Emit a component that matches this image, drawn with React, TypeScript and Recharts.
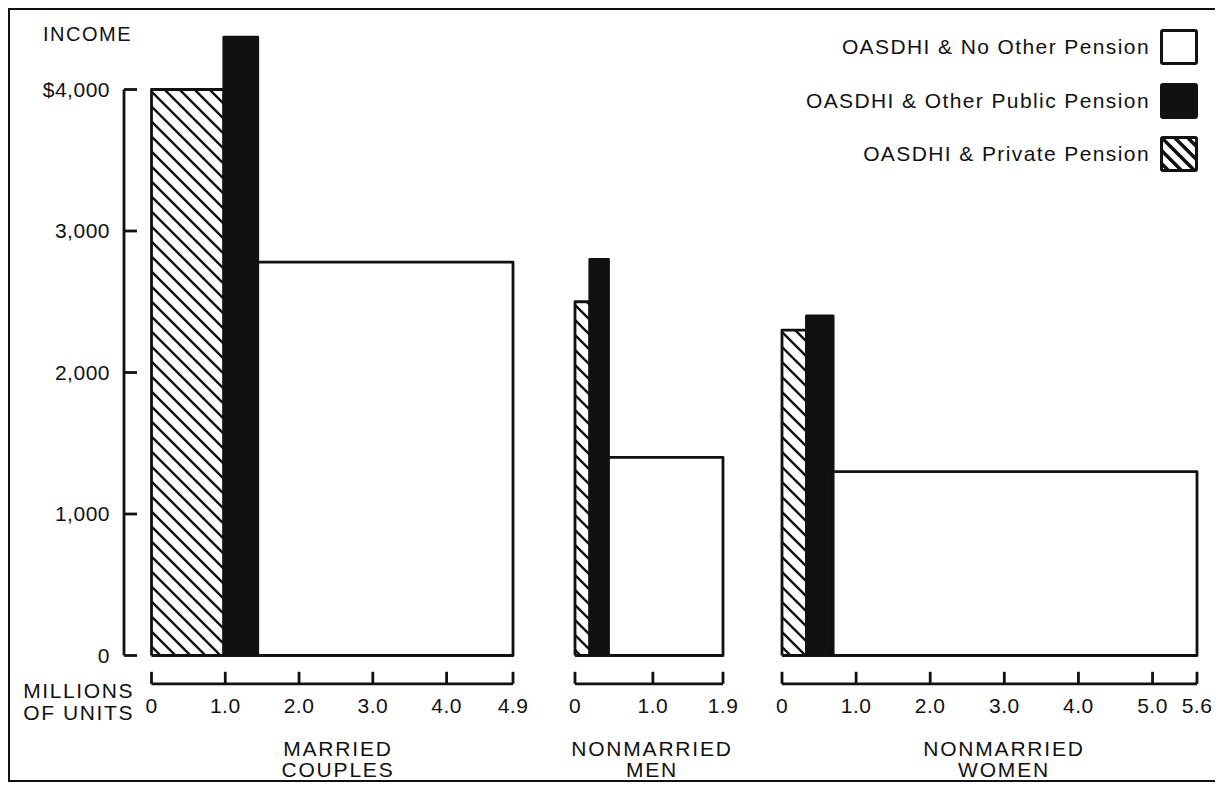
import { AreaChart, Area, XAxis, YAxis } from "recharts"

// ---- values ----
const groupNames = [
  ["MARRIED", "COUPLES"],
  ["NONMARRIED", "MEN"],
  ["NONMARRIED", "WOMEN"],
]
const seriesNames = ["OASDHI & Private Pension", "OASDHI & Other Public Pension", "OASDHI & No Other Pension"]

// bar widths, millions of units
const privateUnits = [0.98, 0.19, 0.33]
const publicUnits = [0.46, 0.24, 0.36]
const noOtherUnits = [3.46, 1.47, 4.91]

// bar heights, income in dollars
const privateIncome = [4000, 2500, 2300]
const publicIncome = [4370, 2800, 2400]
const noOtherIncome = [2780, 1400, 1300]

const unitTicks = [
  [0, 1, 2, 3, 4, 4.9],
  [0, 1, 1.9],
  [0, 1, 2, 3, 4, 5, 5.6],
]
const incomeTicks = [0, 1000, 2000, 3000, 4000]

// ---- layout ----
const W = 1211
const H = 774
const INK = "#111"
const FONT = '"Liberation Sans", Arial, Helvetica, sans-serif'
const ZERO_Y = 647.5
const PX_PER_DOLLAR = 0.1415
const Y_MIN = -200
const Y_MAX = 4500
const X_AXIS_H = 40
const Y_AXIS_X = 116
const Y_AXIS_W = 110
const LINE_W = 2.8
const panelEdges = [
  [143.5, 505],
  [567, 715],
  [774, 1189],
]
const groupLabelX = [330, 644, 996]

const seriesKeys = ["privatePension", "publicPension", "noOtherPension"]
const unitsBySeries = [privateUnits, publicUnits, noOtherUnits]
const incomeBySeries = [privateIncome, publicIncome, noOtherIncome]
const seriesFills = ["url(#hatch)", INK, "#fff"]

function panelRows(g: number) {
  const rows: Record<string, number>[] = []
  let start = 0
  seriesKeys.forEach((key, s) => {
    const end = start + unitsBySeries[s][g]
    const v = incomeBySeries[s][g]
    // walk round the bar so the area stroke boxes all four sides
    rows.push(
      { x: start, [key]: 0 },
      { x: start, [key]: v },
      { x: end, [key]: v },
      { x: end, [key]: 0 },
      { x: start, [key]: 0 },
    )
    start = end
  })
  return rows
}

const fmtUnits = (v: number) => (v === 0 ? "0" : v.toFixed(1))
const fmtIncome = (v: number, i: number) =>
  (i === incomeTicks.length - 1 ? "$" : "") + v.toLocaleString("en-US")

function HatchDefs() {
  return (
    <svg width={0} height={0} style={{ position: "absolute" }}>
      <defs>
        <pattern id="hatch" patternUnits="userSpaceOnUse" width={15} height={15}>
          <rect width={15} height={15} fill="#fff" />
          <path d="M-4,11 L4,19 M0,0 L15,15 M11,-4 L19,4" stroke={INK} strokeWidth={2.4} />
        </pattern>
        <pattern id="hatchBig" patternUnits="userSpaceOnUse" width={13} height={13}>
          <rect width={13} height={13} fill="#fff" />
          <path d="M-4,9 L4,17 M0,0 L13,13 M9,-4 L17,4" stroke={INK} strokeWidth={3.5} />
        </pattern>
      </defs>
    </svg>
  )
}

function GroupLabel({ g }: { g: number }) {
  const x = groupLabelX[g]
  return (
    <text x={x} textAnchor="middle" fontSize={21} fill={INK} style={{ letterSpacing: 1.8 }}>
      <tspan x={x} y={748}>
        {groupNames[g][0]}
      </tspan>
      <tspan x={x} y={769}>
        {groupNames[g][1]}
      </tspan>
    </text>
  )
}

function Panel({ g }: { g: number }) {
  const [left, right] = panelEdges[g]
  const top = ZERO_Y - Y_MAX * PX_PER_DOLLAR
  const bottom = ZERO_Y - Y_MIN * PX_PER_DOLLAR
  const total = unitsBySeries.reduce((sum, u) => sum + u[g], 0)
  return (
    <div style={{ position: "absolute", left: 0, top: 0, letterSpacing: 0.5 }}>
      <AreaChart
        width={W}
        height={H}
        data={panelRows(g)}
        margin={{ top, left, right: W - right, bottom: H - bottom - X_AXIS_H }}
      >
        <XAxis
          type="number"
          dataKey="x"
          domain={[0, total]}
          ticks={unitTicks[g]}
          interval={0}
          height={X_AXIS_H}
          tickSize={-12}
          tickMargin={26}
          tickFormatter={fmtUnits}
          tick={{ fill: INK, fontSize: 21 }}
          axisLine={{ stroke: INK, strokeWidth: LINE_W }}
          tickLine={{ stroke: INK, strokeWidth: LINE_W }}
          label={() => <GroupLabel g={g} />}
        />
        <YAxis hide type="number" domain={[Y_MIN, Y_MAX]} />
        {seriesKeys.map((key, s) => (
          <Area
            key={key}
            type="linear"
            dataKey={key}
            baseValue={0}
            stroke={INK}
            strokeWidth={LINE_W}
            strokeLinejoin="round"
            fill={seriesFills[s]}
            fillOpacity={1}
            dot={false}
            activeDot={false}
            isAnimationActive={false}
          />
        ))}
      </AreaChart>
    </div>
  )
}

function IncomeAxis() {
  const top = ZERO_Y - incomeTicks[incomeTicks.length - 1] * PX_PER_DOLLAR
  return (
    <div style={{ position: "absolute", left: 0, top: 0, letterSpacing: 0.5 }}>
      <AreaChart
        width={W}
        height={H}
        data={[{ x: 0 }, { x: 1 }]}
        margin={{ top, left: Y_AXIS_X - Y_AXIS_W, right: W - Y_AXIS_X - 20, bottom: H - ZERO_Y }}
      >
        <XAxis hide type="number" dataKey="x" domain={[0, 1]} allowDataOverflow />
        <YAxis
          type="number"
          domain={[0, 4000]}
          allowDataOverflow
          ticks={incomeTicks}
          interval={0}
          width={Y_AXIS_W}
          tickSize={-13}
          tickMargin={27}
          tickFormatter={fmtIncome}
          tick={{ fill: INK, fontSize: 21 }}
          axisLine={{ stroke: INK, strokeWidth: LINE_W }}
          tickLine={{ stroke: INK, strokeWidth: LINE_W }}
        />
      </AreaChart>
    </div>
  )
}

function LegendBox({ s }: { s: number }) {
  return (
    <div
      style={{
        width: 38,
        height: 36,
        boxSizing: "border-box",
        border: `3px solid ${INK}`,
        borderRadius: 3,
        background: s === 1 ? INK : "#fff",
        overflow: "hidden",
      }}
    >
      {s === 0 && (
        <svg width={32} height={30} style={{ display: "block" }}>
          <rect width={32} height={30} fill="url(#hatchBig)" />
        </svg>
      )}
    </div>
  )
}

export default function App() {
  const legendTops = [21, 75, 128]
  return (
    <div style={{ position: "relative", width: W, height: H, fontFamily: FONT, color: INK, background: "#fff" }}>
      <HatchDefs />
      <IncomeAxis />
      {groupNames.map((_, g) => (
        <Panel key={g} g={g} />
      ))}
      <div
        style={{
          position: "absolute",
          left: 0,
          top: 0,
          width: W,
          height: H,
          boxSizing: "border-box",
          border: `2px solid ${INK}`,
          pointerEvents: "none",
        }}
      />
      <div style={{ position: "absolute", left: 35, top: 16, fontSize: 20, lineHeight: "20px", letterSpacing: 1.5 }}>
        INCOME
      </div>
      <div
        style={{
          position: "absolute",
          right: W - 126,
          top: 672,
          fontSize: 21,
          lineHeight: "22px",
          letterSpacing: 1.6,
          textAlign: "right",
        }}
      >
        MILLIONS
        <br />
        OF UNITS
      </div>
      {[2, 1, 0].map((s, row) => (
        <div
          key={s}
          style={{
            position: "absolute",
            right: 21,
            top: legendTops[row],
            height: 36,
            display: "flex",
            alignItems: "center",
            gap: 10,
          }}
        >
          <span style={{ fontSize: 21, letterSpacing: 1.4, whiteSpace: "nowrap" }}>{seriesNames[s]}</span>
          <LegendBox s={s} />
        </div>
      ))}
    </div>
  )
}
